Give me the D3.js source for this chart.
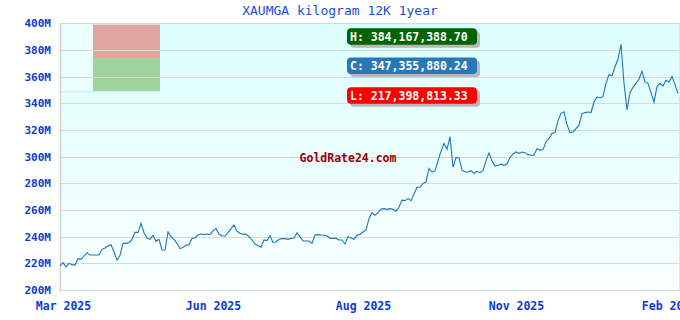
<!DOCTYPE html>
<html><head><meta charset="utf-8">
<script src="https://cdn.jsdelivr.net/npm/d3@7"></script>
<style>html,body{margin:0;padding:0;background:#fff;}svg{display:block;}</style>
</head><body>
<svg id="c" width="680" height="320"></svg>
<script>
const title = "XAUMGA kilogram 12K 1year";
const yTicks = [200,220,240,260,280,300,320,340,360,380,400];
const xLabels = ["Mar 2025","Jun 2025","Aug 2025","Nov 2025","Feb 2026"];
const xLabelIdx = [1,51,101,152,203];
const stats = ["H: 384,167,388.70","C: 347,355,880.24","L: 217,398,813.33"];
const statColors = ["#006400","#2878b8","#ff0000"];
const bandTop = [399, 374];
const bandBottom = [374, 349];
const bandColors = ["#dea69f","#9fd49a"];
// values in millions
const values = [
218,220.5,217.4,220,219,218.7,223.5,223,225.5,228,226.2,226.2,226.2,226.2,230.5,231.5,233,234,228.7,222.5,
226,235,235,235.5,238,243.2,243.2,250,243,239,238,241,236.5,238,230,230,243.5,240,238,235,
231,232,233.5,234,238.7,239,241.2,242,241.5,242,241.5,244.4,246,242,240.5,240.5,243,
246,248.7,244,242.5,241.7,242,240,237.5,234.5,233.2,232,237.5,237,240.7,235.7,236,238,238.5,238.5,238,
238.7,239,243,240,236.7,236.7,236.7,235,241.2,241.5,241.2,241,240.7,238.7,238.7,238.7,237.5,237.5,234.5,240,
239,238,241,241.7,243.5,245,253.5,258,256,258,260.7,261,260.5,261,260.5,259,262,267.4,
267,268.5,267,272,277,277,280,281,291.2,288.5,289.4,297,304,310,305.4,315,292,299.4,299,290,
288.5,288.5,289.5,287.5,289,288,289.5,297,302.8,297,292.9,293.5,294.4,293.5,294.5,299.4,302,303.6,302.5,303.5,
303,301.5,301,301,306,304.9,305.3,311,313.6,317.4,318,327,332.5,333.6,324,318,318.5,321,323.6,332.3,
333,333.5,333.1,341,344.8,344,345,355,361.6,360.6,367.4,373,384.17,355,335,348,352,355,358,364,
356,355,348,341,352.4,355,353,357.3,356,360,354,347.36
];

const svg = d3.select("#c");
const L = 60, R = 679, T = 23.3, B = 290;
const x = d3.scaleLinear().domain([0, values.length - 1]).range([L, 678]);
const y = d3.scaleLinear().domain([200, 400]).range([B, T]);

const defs = svg.append("defs");
const g = defs.append("linearGradient").attr("id","bg").attr("x1",0).attr("y1",0).attr("x2",0).attr("y2",1);
g.append("stop").attr("offset","0%").attr("stop-color","#dcfefe");
g.append("stop").attr("offset","100%").attr("stop-color","#f9ffff");
svg.append("rect").attr("x",L).attr("y",T).attr("width",R-L).attr("height",B-T).attr("fill","url(#bg)");

// legend-like block top-left
svg.append("rect").attr("x",L).attr("y",T).attr("width",100).attr("height",y(bandBottom[1])-T).attr("fill","#ecffff");
svg.append("line").attr("x1",L).attr("x2",93).attr("y1",y(bandBottom[1])+0.5).attr("y2",y(bandBottom[1])+0.5).attr("stroke","#d4e8e8");
svg.selectAll("rect.band").data(bandTop).enter().append("rect").attr("class","band")
  .attr("x",93).attr("width",67)
  .attr("y",(d)=>y(d)).attr("height",(d,i)=>y(bandBottom[i])-y(d))
  .attr("fill",(d,i)=>bandColors[i]);

// grid
svg.selectAll("line.grid").data(yTicks).enter().append("line").attr("class","grid")
  .attr("x1",L).attr("x2",R).attr("y1",d=>Math.round(y(d))+0.5).attr("y2",d=>Math.round(y(d))+0.5)
  .attr("stroke","#d8d8d8").attr("stroke-width",1.2);
svg.append("line").attr("x1",L+0.5).attr("x2",L+0.5).attr("y1",T).attr("y2",B+1).attr("stroke","#d0d0d0").attr("stroke-width",1.5);
svg.append("line").attr("x1",R+0.5).attr("x2",R+0.5).attr("y1",T).attr("y2",B+1).attr("stroke","#e4e4e4");

// y axis labels
const yAxis = d3.axisLeft(y).tickValues(yTicks).tickSize(0).tickPadding(0).tickFormat(d=>d+"M");
const ya = svg.append("g").attr("transform",`translate(51,0)`).call(yAxis);
ya.select(".domain").remove();
ya.selectAll("text").attr("font-family","DejaVu Sans Mono").attr("font-weight","bold").attr("font-size","11px").attr("fill","#0b3bd1");

// x axis labels
const xAxis = d3.axisBottom(x).tickValues(xLabelIdx).tickSize(0).tickPadding(0).tickFormat((d,i)=>xLabels[i]);
const xa = svg.append("g").attr("transform",`translate(0,302)`).call(xAxis);
xa.select(".domain").remove();
xa.selectAll("text").attr("font-family","DejaVu Sans Mono").attr("font-weight","bold").attr("font-size","11.5px").attr("fill","#0b3bd1");

// watermark
svg.append("text").attr("x",348).attr("y",162).attr("text-anchor","middle")
  .attr("font-family","DejaVu Sans Mono").attr("font-weight","bold").attr("font-size","11.5px").attr("fill","#990000").text("GoldRate24.com");

// line
svg.append("path").datum(values)
  .attr("d", d3.line().x((d,i)=>x(i)).y(d=>y(d)))
  .attr("fill","none").attr("stroke","#1f77b4").attr("stroke-width",1.1);

// stat boxes
const boxTop = [28.3, 57.5, 87.3];
stats.forEach((s,i)=>{
  svg.append("rect").attr("x",350).attr("y",boxTop[i]+3).attr("width",130).attr("height",16.5).attr("rx",4).attr("fill","#b8b8b8");
  svg.append("rect").attr("x",347).attr("y",boxTop[i]).attr("width",130).attr("height",16.5).attr("rx",4).attr("fill",statColors[i]);
  svg.append("text").attr("x",350).attr("y",boxTop[i]+12.5).attr("font-family","DejaVu Sans Mono").attr("font-weight","bold")
    .attr("font-size","11.5px").attr("fill","#ffffff").text(s);
});

// title
svg.append("text").attr("x",340).attr("y",15).attr("text-anchor","middle")
  .attr("font-family","DejaVu Sans Mono").attr("font-size","13px").attr("fill","#1a4fcc").text(title);
</script>
</body></html>
